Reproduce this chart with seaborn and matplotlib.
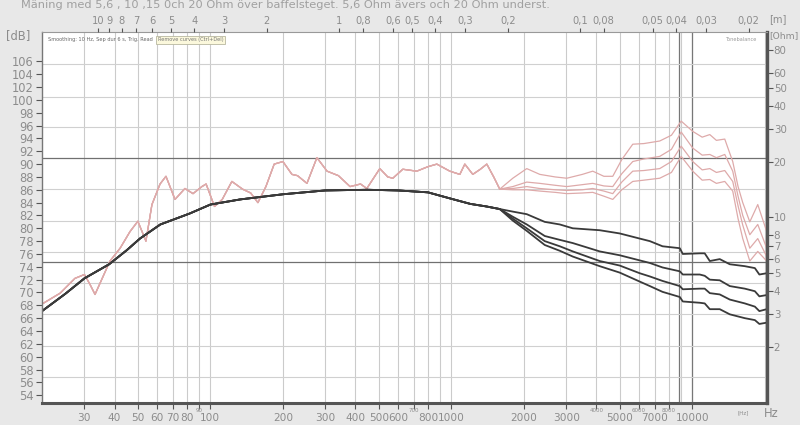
"""
Baffle step measurement, 5,6 / 10 / 15 / 20 Ohm - recreated as a seaborn line chart.
"""
import numpy as np
import pandas as pd
import matplotlib
matplotlib.use("Agg")
import matplotlib.pyplot as plt
import matplotlib.transforms as mtrans
import seaborn as sns

sns.set_style("white")
plt.rcParams["font.family"] = ["DejaVu Sans"]

TITLE = "Mäning med 5,6 , 10 ,15 0ch 20 Ohm över baffelsteget. 5,6 Ohm ävers och 20 Ohm underst."
RESISTORS = ["5,6 Ohm", "10 Ohm", "15 Ohm", "20 Ohm"]

# raw response (pink), shared part up to the split at ~1.6 kHz
pink_f_low = [20, 23.8, 27.4, 30, 31.6, 33.2, 38.3, 42.2, 46.4, 50, 54, 57.2, 61.8, 65.4,
              71.3, 78.4, 84.7, 92.2, 96, 104, 112, 122.8, 136, 147, 157.5, 170, 184, 200,
              218, 230, 251.7, 276.8, 305, 340, 380, 420, 446, 505, 545, 572, 629, 719,
              800, 871, 986, 1085, 1138, 1228, 1320, 1404, 1500, 1589]
pink_db_low = [68.2, 69.9, 72.2, 72.8, 71.3, 69.7, 74.9, 76.9, 79.5, 81.1, 78.0, 83.7, 86.9, 88.1,
               84.5, 86.2, 85.4, 86.5, 86.9, 83.4, 84.5, 87.3, 86.1, 85.5, 84.0, 86.5, 90.0, 90.4,
               88.4, 88.2, 87.0, 91.0, 88.9, 88.2, 86.5, 86.9, 86.2, 89.3, 88.0, 87.8, 89.2, 88.9,
               89.6, 90.0, 88.9, 88.4, 90.0, 88.4, 89.2, 90.0, 88.0, 86.1]

# raw response after the split, one list per resistor
pink_f_high = [1800, 2057, 2330, 2700, 3015, 3500, 3865, 4300, 4680, 5100, 5665, 6300, 7330,
               8200, 9000, 10050, 11000, 11830, 12600, 13650, 14730, 15500, 16210, 17340,
               18710, 20380]
pink_db_56 = [87.8, 89.3, 88.4, 88.0, 87.8, 88.4, 88.9, 88.1, 88.1, 90.7, 93.1, 93.2, 93.6,
              94.5, 96.7, 95.1, 94.2, 94.6, 93.7, 93.9, 90.4, 86.5, 84.0, 81.0, 83.7, 79.5]
pink_db_10 = [86.5, 87.2, 87.0, 86.7, 86.5, 86.8, 87.0, 86.6, 86.5, 88.5, 90.4, 90.8, 91.2,
              92.3, 95.0, 92.5, 91.4, 91.5, 91.0, 91.5, 88.9, 85.0, 82.0, 79.0, 80.6, 76.9]
pink_db_15 = [86.2, 86.5, 86.2, 86.0, 85.9, 86.0, 86.2, 85.8, 85.4, 87.2, 88.9, 89.0, 89.3,
              90.4, 92.8, 90.4, 89.1, 89.3, 88.7, 89.0, 87.3, 83.5, 80.5, 76.9, 78.4, 75.6]
pink_db_20 = [86.0, 86.0, 85.8, 85.6, 85.4, 85.5, 85.6, 85.0, 84.5, 86.0, 87.3, 87.5, 87.8,
              88.7, 91.2, 88.9, 87.5, 87.6, 87.0, 87.3, 85.8, 81.5, 78.4, 74.9, 76.4, 74.9]

# smoothed response (dark), shared part
black_f_low = [20, 25, 30, 38, 45, 51, 62, 82, 100, 133, 200, 300, 450, 600, 800, 1000,
               1200, 1400, 1589]
black_db_low = [67.1, 69.8, 72.2, 74.4, 76.6, 78.4, 80.6, 82.3, 83.7, 84.5, 85.3, 85.9, 86.0,
                85.9, 85.6, 84.6, 83.8, 83.4, 83.0]

black_f_high = [1800, 2057, 2443, 2820, 3193, 4131, 5000, 6055, 6670, 7530, 8880, 9140, 10750,
                11270, 11830, 13010, 14320, 16530, 18200, 19000, 20380]
black_db_56 = [82.6, 82.2, 81.0, 80.6, 80.0, 79.7, 79.2, 78.4, 78.0, 77.2, 76.9, 76.0, 76.1,
               76.1, 74.9, 75.2, 74.4, 74.1, 73.8, 72.8, 73.0]
black_db_10 = [81.8, 80.6, 78.8, 78.2, 77.7, 76.4, 75.8, 75.0, 74.6, 73.9, 73.3, 72.8, 72.8,
               72.6, 72.0, 71.9, 71.0, 70.6, 70.2, 69.4, 69.6]
black_db_15 = [81.5, 80.0, 78.0, 77.2, 76.4, 74.9, 74.2, 73.0, 72.5, 71.8, 71.0, 70.5, 70.6,
               70.6, 69.9, 69.7, 68.9, 68.3, 67.8, 67.1, 67.4]
black_db_20 = [81.2, 79.6, 77.4, 76.5, 75.6, 74.1, 73.1, 71.7, 71.0, 70.1, 69.3, 68.6, 68.4,
               68.3, 67.4, 67.4, 66.6, 66.0, 65.7, 65.1, 65.3]

# axis ticks
db_ticks = list(range(54, 108, 2))
ohm_ticks = [2, 3, 4, 5, 6, 7, 8, 10, 20, 30, 40, 50, 60, 80]
hz_big = [30, 40, 50, 60, 70, 80, 100, 200, 300, 400, 500, 600, 800, 1000, 2000, 3000,
          5000, 7000, 10000]
hz_small = [90, 700, 4000, 6000, 8000]
wavelengths = [10, 9, 8, 7, 6, 5, 4, 3, 2, 1, 0.8, 0.6, 0.5, 0.4, 0.3, 0.2, 0.1, 0.08,
               0.05, 0.04, 0.03, 0.02]
SOUND_SPEED = 343.0

# horizontal grid of the original program (does not sit on the dB ticks)
grid_db = [105.6, 100.5, 95.8, 86.1, 81.2, 76.3, 71.5, 66.7, 61.7, 56.9]
grid_db_dark = [90.96, 74.8]

PINK = "#deaaaa"
DARK = "#3a3a3a"
TXT = "#8c8c8c"


def build_long(f_low, db_low, f_high, highs, kind):
    rows = []
    for name, db_high in zip(RESISTORS, highs):
        for f, d in zip(list(f_low) + list(f_high), list(db_low) + list(db_high)):
            rows.append({"freq": f, "db": d, "curve": f"{kind} {name}"})
    return pd.DataFrame(rows)


pink_df = build_long(pink_f_low, pink_db_low, pink_f_high,
                     [pink_db_56, pink_db_10, pink_db_15, pink_db_20], "raw")
black_df = build_long(black_f_low, black_db_low, black_f_high,
                      [black_db_56, black_db_10, black_db_15, black_db_20], "smooth")

fig = plt.figure(figsize=(8, 4.25), dpi=100, facecolor="#e8e8e8")
ax = fig.add_axes([0.0525, 0.052, 0.906, 0.873])
ax.set_facecolor("white")
ax.set_xscale("log")
ax.set_xlim(20, 20400)
ax.set_ylim(52.8, 110.6)

# grid
all_hz = [f * m for m in (10, 100, 1000) for f in range(1, 10)] + [10000, 20000]
for f in all_hz:
    if 20 < f < 20400:
        ax.axvline(f, color="#cbcbcb", lw=0.8, zorder=0)
for f in (8800, 10000):
    ax.axvline(f, color="#777777", lw=0.9, zorder=0)
for d in grid_db:
    ax.axhline(d, color="#d0d0d0", lw=0.8, zorder=0)
for d in grid_db_dark:
    ax.axhline(d, color="#707070", lw=0.9, zorder=0)

sns.lineplot(data=pink_df, x="freq", y="db", units="curve", estimator=None, sort=False,
             color=PINK, lw=0.9, ax=ax, legend=False)
sns.lineplot(data=black_df, x="freq", y="db", units="curve", estimator=None, sort=False,
             color=DARK, lw=1.3, ax=ax, legend=False)
ax.set_xlabel("")
ax.set_ylabel("")

# bottom axis: big labels as tick labels, the tiny ones raised a little like the original
ax.set_xticks(hz_big + hz_small)
ax.set_xticklabels([str(v) for v in hz_big] + [""] * len(hz_small))
ax.xaxis.set_minor_locator(matplotlib.ticker.NullLocator())
ax.tick_params(axis="x", colors="#555555", labelcolor=TXT, labelsize=7.6, length=4,
               width=0.8, pad=3)
blend = mtrans.blended_transform_factory(ax.transData, ax.transAxes)
for v in hz_small:
    ax.text(v, -0.013, str(v), transform=blend, fontsize=4.0, color=TXT,
            ha="center", va="top")

# left axis
ax.set_yticks(db_ticks)
ax.set_yticklabels([str(v) for v in db_ticks])
ax.tick_params(axis="y", colors="#555555", labelcolor=TXT, labelsize=8.3, length=4,
               width=0.8, pad=2)

for side, (c, w) in {"left": ("#777777", 1.0), "bottom": ("#555555", 2.2),
                     "right": ("#555555", 2.4), "top": ("#999999", 0.8)}.items():
    ax.spines[side].set_visible(True)
    ax.spines[side].set_color(c)
    ax.spines[side].set_linewidth(w)

# right axis: impedance
axr = ax.twinx()
axr.set_yscale("log")
axr.set_ylim(1, 100)
axr.set_yticks(ohm_ticks)
axr.set_yticklabels([str(v) for v in ohm_ticks])
axr.yaxis.set_minor_locator(matplotlib.ticker.NullLocator())
axr.tick_params(axis="y", colors="#555555", labelcolor=TXT, labelsize=7.4, length=4,
                width=0.8, pad=1)
for s in axr.spines.values():
    s.set_visible(False)

# top axis: wavelength
axt = ax.twiny()
axt.set_xscale("log")
axt.set_xlim(ax.get_xlim())
axt.set_xticks([SOUND_SPEED / w for w in wavelengths])
axt.set_xticklabels([f"{w:g}".replace(".", ",") for w in wavelengths])
axt.xaxis.set_minor_locator(matplotlib.ticker.NullLocator())
axt.tick_params(axis="x", colors="#555555", labelcolor=TXT, labelsize=7.1, length=3,
                width=0.8, pad=1)
for s in axt.spines.values():
    s.set_visible(False)

# texts
fig.text(0.026, 1.0, TITLE, color="#a0a0a0", fontsize=8.2, va="top", ha="left")
fig.text(0.007, 0.917, "[dB]", color=TXT, fontsize=8.3, va="center")
fig.text(0.962, 0.917, "[Ohm]", color=TXT, fontsize=6.6, va="center")
fig.text(0.962, 0.955, "[m]", color=TXT, fontsize=7.1, va="center")
fig.text(0.922, 0.028, "[Hz]", color=TXT, fontsize=4.0, va="center")
fig.text(0.955, 0.028, "Hz", color=TXT, fontsize=8.3, va="center")
ax.text(0.008, 0.985, "Smoothing: 10 Hz, Sep dur 6 s, Trig. Read",
        transform=ax.transAxes, fontsize=3.6, color="#666666", va="top")
ax.text(0.16, 0.985, "Remove curves (Ctrl+Del)", transform=ax.transAxes, fontsize=3.6,
        color="#777777", va="top",
        bbox=dict(boxstyle="square,pad=0.3", fc="#fbf8dc", ec="#b8b8a0", lw=0.6))
ax.text(0.985, 0.985, "Tonebalance", transform=ax.transAxes, fontsize=3.6,
        color="#999999", va="top", ha="right")

fig.savefig("out.png", dpi=100, facecolor=fig.get_facecolor())
